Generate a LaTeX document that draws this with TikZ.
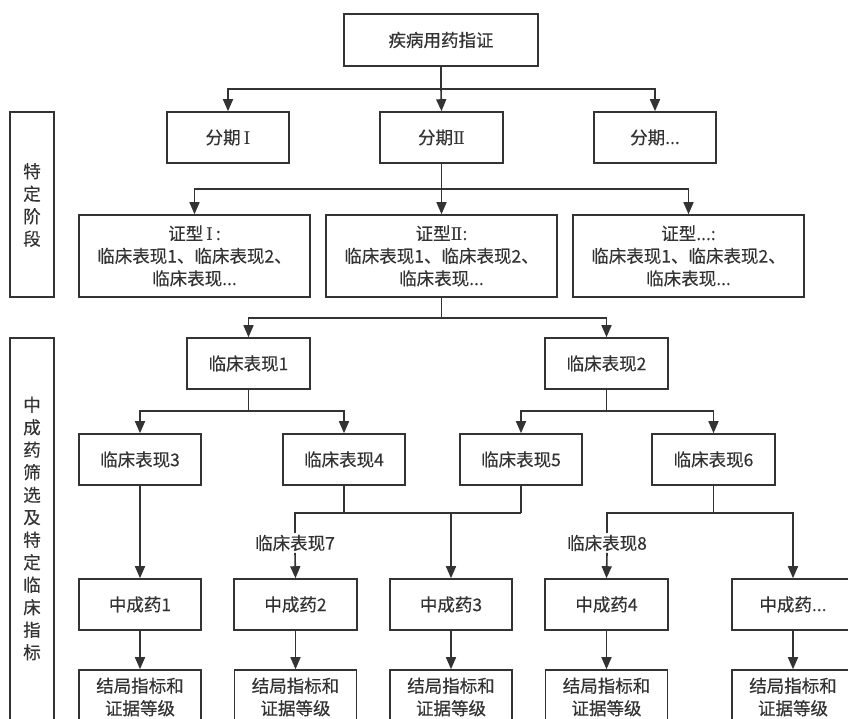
\documentclass[tikz,border=0pt]{standalone}
\usepackage{fontspec}
\setmainfont{Noto Sans CJK SC}[FakeBold=0.35]
\newfontfamily\romnum{DejaVu Serif}
\usetikzlibrary{arrows.meta}
\definecolor{ink}{HTML}{333333}
\newcommand{\RI}{{\romnum Ⅰ}}
\newcommand{\RII}{{\romnum Ⅱ}}
\begin{document}
\begin{tikzpicture}[x=1pt,y=-1pt,
  txt/.style={text=ink, align=center, inner sep=0pt, font=\fontsize{17.5}{22.5}\selectfont},
  box/.style={txt, draw=ink, line width=1.6pt, fill=white},
  sbox/.style={box, minimum width=122pt, minimum height=51pt},
  zbox/.style={box, minimum width=231pt, minimum height=82pt},
  rbox/.style={box, minimum width=122pt, minimum height=54pt},
  ln/.style={draw=ink, line width=1.6pt},
  arr/.style={ln, -{Triangle[width=10pt,length=12pt]}}]
\useasboundingbox (0,0) rectangle (848,718);
\clip (0,0) rectangle (848,718);
\fill[white] (0,0) rectangle (848,718);

% side boxes
\node[box, minimum width=44pt, minimum height=185pt] (s1) at (32,204.5) {};
\node[txt] (s1t) at (32,205) {特\\定\\阶\\段};
\node[box, minimum width=44pt, minimum height=402pt] (s2) at (32,539) {};
\node[txt] (s2t) at (32,528.5) {中\\成\\药\\筛\\选\\及\\特\\定\\临\\床\\指\\标};

% level 1-2
\node[box, minimum width=194pt, minimum height=52pt] (top) at (441,40) {疾病用药指证};
\node[sbox] (f1) at (228,137.5) {分期\,\RI};
\node[sbox, minimum width=123pt] (f2) at (441.5,137.5) {分期\RII};
\node[sbox] (f3) at (655,137.5) {分期...};

% level 3
\node[zbox] (z1) at (194.5,256) {证型\,\RI\,:\\临床表现1、临床表现2、\\临床表现...};
\node[zbox] (z2) at (441.5,256) {证型\RII:\\临床表现1、临床表现2、\\临床表现...};
\node[zbox] (z3) at (688.5,256) {证型...:\\临床表现1、临床表现2、\\临床表现...};

% level 4-5
\node[sbox, minimum width=123pt] (c1) at (248.5,363.5) {临床表现1};
\node[sbox, minimum width=123pt] (c2) at (606.5,363.5) {临床表现2};
\node[sbox] (c3) at (140,459.5) {临床表现3};
\node[sbox] (c4) at (344,459.5) {临床表现4};
\node[sbox] (c5) at (521,459.5) {临床表现5};
\node[sbox, minimum width=123pt] (c6) at (713.5,459.5) {临床表现6};

% labels
\node[txt, inner ysep=1.5pt] (l7) at (295,543) {临床表现7};
\node[txt, inner ysep=1.5pt] (l8) at (607,543) {临床表现8};

% medicines
\node[sbox] (m1) at (140,604.5) {中成药1};
\node[sbox, minimum width=123pt] (m2) at (295.5,604.5) {中成药2};
\node[sbox] (m3) at (451,604.5) {中成药3};
\node[sbox, minimum width=123pt] (m4) at (606.5,604.5) {中成药4};
\node[sbox] (m5) at (793,604.5) {中成药...};

% results
\foreach \i/\x in {1/140,2/295.5,3/451,4/606.5,5/793}{
  \node[rbox] (r\i) at (\x,697) {结局指标和\\证据等级};
}

% junctions
\coordinate (j1) at (441,89);
\coordinate (j2) at (441.5,189);
\coordinate (j3) at (441.5,318);
\coordinate (j4) at (248.5,411);
\coordinate (j5) at (606.5,411);
\coordinate (j6) at (344,513);
\coordinate (j7) at (521,513);
\coordinate (j8) at (713.5,513);

% connectors
\draw[ln] (top.south) -- (j1);
\draw[arr] (j1) -| (f1.north);
\draw[arr] (j1) -- (f2.north);
\draw[arr] (j1) -| (f3.north);

\draw[ln] (f2.south) -- (j2);
\draw[arr] (j2) -| (z1.north);
\draw[arr] (j2) -- (z2.north);
\draw[arr] (j2) -| (z3.north);

\draw[ln] (z2.south) -- (j3);
\draw[arr] (j3) -| (c1.north);
\draw[arr] (j3) -| (c2.north);

\draw[ln] (c1.south) -- (j4);
\draw[arr] (j4) -| (c3.north);
\draw[arr] (j4) -| (c4.north);

\draw[ln] (c2.south) -- (j5);
\draw[arr] (j5) -| (c5.north);
\draw[arr] (j5) -| (c6.north);

\draw[arr] (c3.south) -- (m1.north);

\draw[ln] (c4.south) -- (j6);
\draw[ln] (j6) -| (l7.north);
\draw[arr] (l7.south) -- (m2.north);
\draw[arr] (j6) -| (m3.north);
\draw[ln] (c5.south) -- (j7);
\draw[ln] (j7) -- (j6);

\draw[ln] (c6.south) -- (j8);
\draw[ln] (j8) -| (l8.north);
\draw[arr] (l8.south) -- (m4.north);
\draw[arr] (j8) -| (m5.north);

\foreach \i in {1,...,5}{
  \draw[arr] (m\i.south) -- (r\i.north);
}
\end{tikzpicture}
\end{document}
